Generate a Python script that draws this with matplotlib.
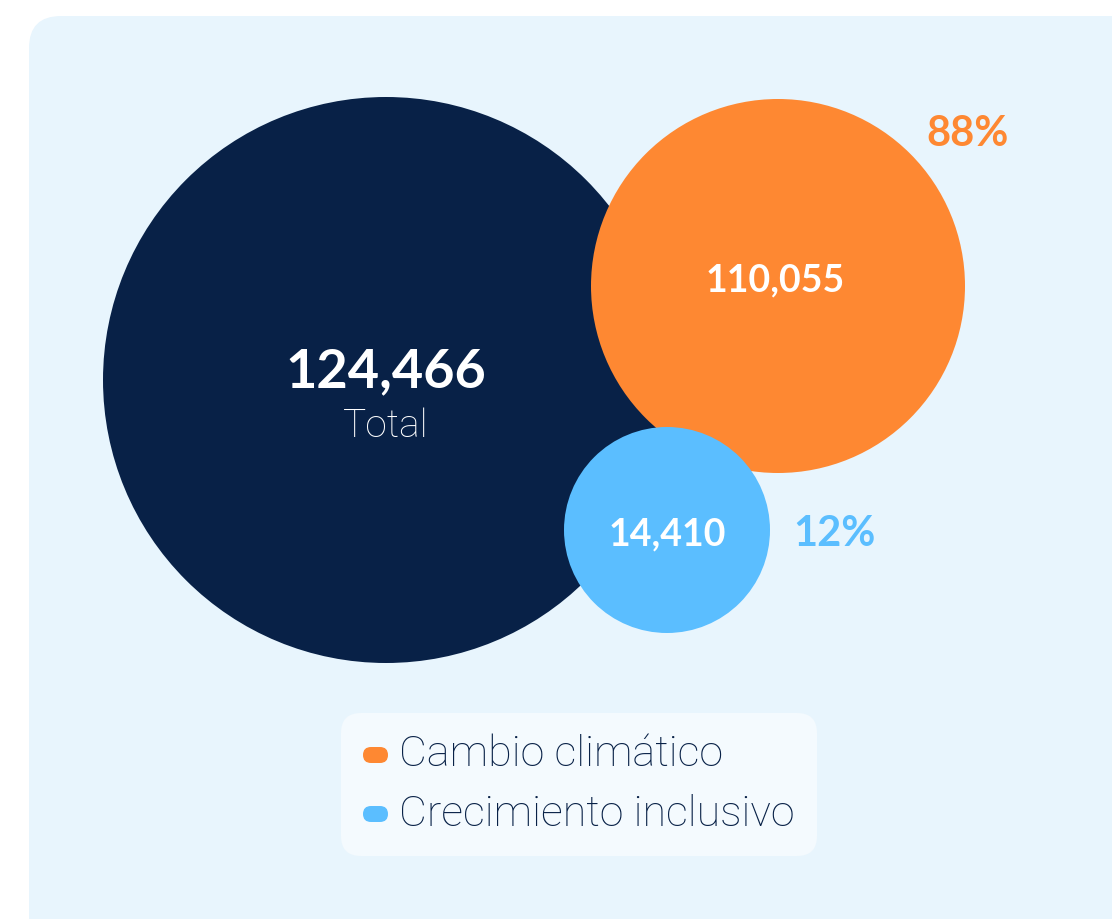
#!/usr/bin/env python3

import matplotlib
matplotlib.use("Agg")
import matplotlib.pyplot as plt
from matplotlib.patches import Circle, FancyBboxPatch

# data
total_value = 124466
total_label = "Total"
categories = ["Cambio climático", "Crecimiento inclusivo"]
values = [110055, 14410]
shares = [88, 12]

# colours
NAVY = "#082147"
ORANGE = "#FE8832"
SKY = "#5BBEFF"
PANEL = "#E8F5FD"
LEGEND_BG = "#F4FAFE"
colors = [ORANGE, SKY]

# layout (pixels, y going down)
total_circle = (386, 380, 283)
cat_circles = [(778, 286, 187), (667, 530, 103)]
value_offsets = [(-3, -6), (0, 4)]
pct_pos = [(926, 134), (793, 534)]


def fmt(v):
    return f"{v:,}"


def main():
    fig = plt.figure(figsize=(11.12, 9.19), dpi=100)
    ax = fig.add_axes([0, 0, 1, 1])
    ax.set_xlim(0, 1112)
    ax.set_ylim(919, 0)
    ax.axis("off")

    # light blue panel
    ax.add_patch(FancyBboxPatch((29, 16), 1150, 960,
                                boxstyle="round,pad=0,rounding_size=32",
                                fc=PANEL, ec="none", zorder=0))

    # circles
    cx, cy, r = total_circle
    ax.add_patch(Circle((cx, cy), r, fc=NAVY, ec="none", zorder=1))
    ax.text(cx, cy - 8, fmt(total_value), color="white", fontsize=39,
            fontweight="bold", family="Lato", ha="center", va="center", zorder=5)
    ax.text(cx, cy + 46, total_label, color="white", fontsize=28,
            fontweight="light", family="Roboto", ha="center", va="center", zorder=5)

    for (x, y, rad), v, c, p, (dx, dy), (px, py) in zip(
            cat_circles, values, colors, shares, value_offsets, pct_pos):
        ax.add_patch(Circle((x, y), rad, fc=c, ec="none", zorder=2))
        ax.text(x + dx, y + dy, fmt(v), color="white", fontsize=27,
                fontweight="bold", family="Lato", ha="center", va="center", zorder=5)
        ax.text(px, py, f"{p}%", color=c, fontsize=30,
                fontweight="bold", family="Lato", ha="left", va="center", zorder=5)

    # legend box
    ax.add_patch(FancyBboxPatch((341, 713), 476, 143,
                                boxstyle="round,pad=0,rounding_size=20",
                                fc=LEGEND_BG, ec="none", zorder=3))
    for i, (lab, c) in enumerate(zip(categories, colors)):
        y = 755 + i * 59
        ax.add_patch(FancyBboxPatch((363, y - 8), 25, 16,
                                    boxstyle="round,pad=0,rounding_size=8",
                                    fc=c, ec="none", zorder=4))
        ax.text(399, y, lab, color=NAVY, fontsize=31, fontweight="light",
                family="Roboto", ha="left", va="center", zorder=5)

    fig.savefig("out.png", dpi=100, facecolor="white")


if __name__ == "__main__":
    main()
